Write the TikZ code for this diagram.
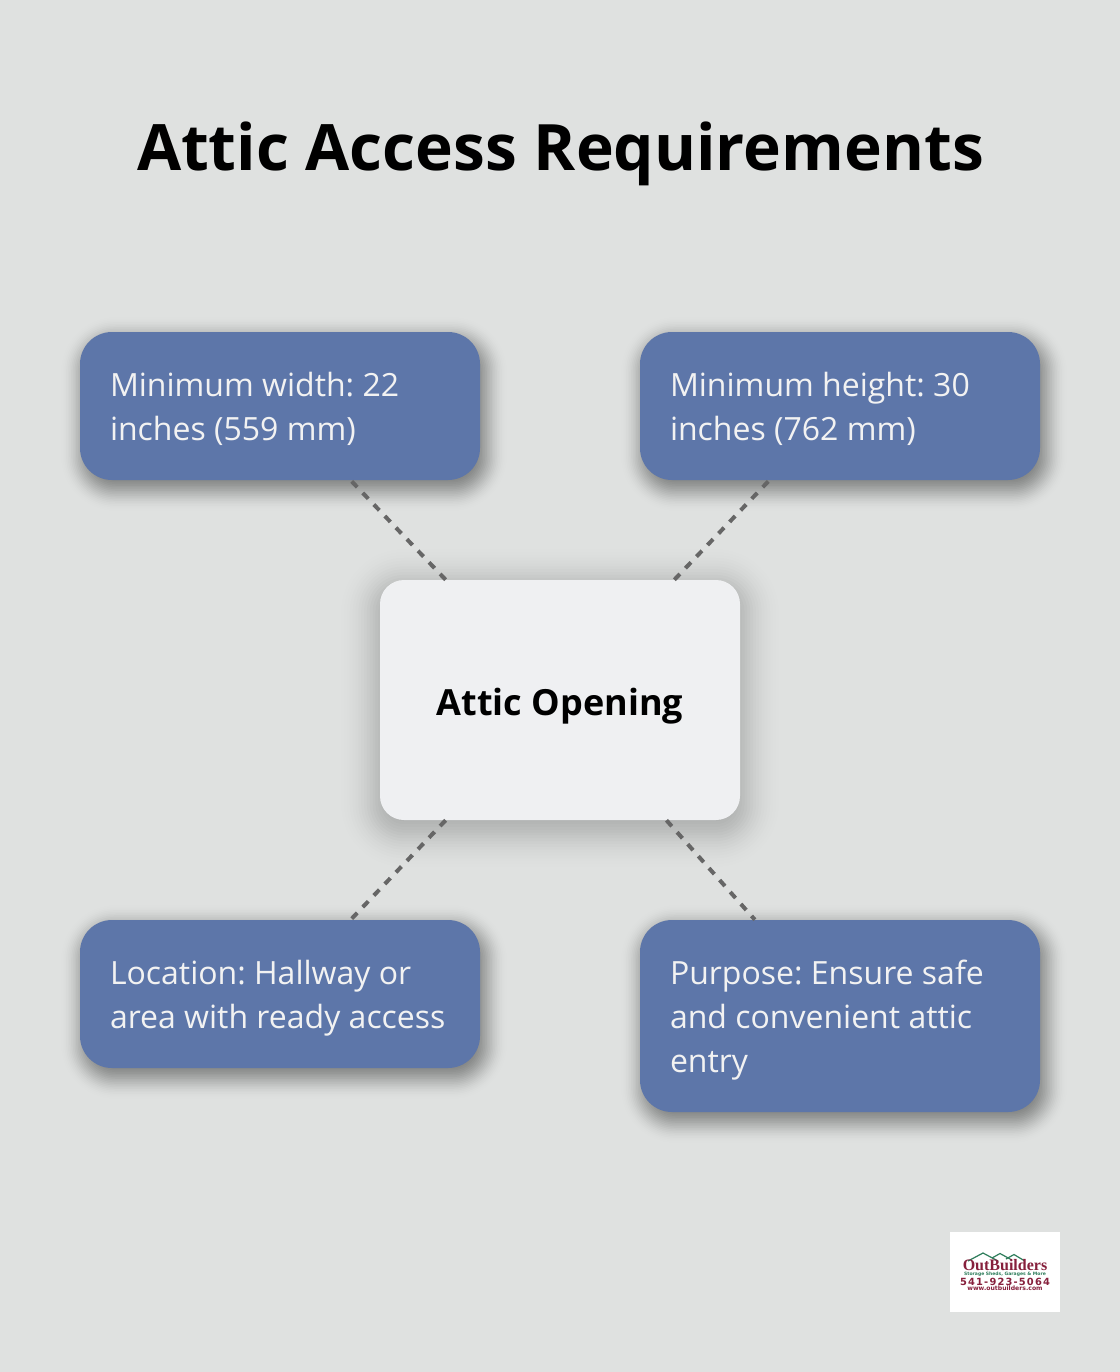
\documentclass[tikz,border=0pt]{standalone}
\usepackage{fontspec}
\setmainfont{Open Sans}
\newfontfamily\logofont{Liberation Serif}
\newfontfamily\logosans{DejaVu Sans}
\usetikzlibrary{calc,backgrounds}
\definecolor{pagegray}{HTML}{DFE1E0}
\definecolor{boxblue}{HTML}{5D76A9}
\definecolor{centerwhite}{HTML}{EFF0F2}
\definecolor{dashgray}{HTML}{666666}
\definecolor{logored}{HTML}{86203C}
\definecolor{logogreen}{HTML}{2E7D5B}
% node, corner radius, offset, blur, steps, strongest opacity
\newcommand{\softshadow}[7]{
	\foreach \ii in {1,...,#6}
	{
		\pgfmathsetmacro{\tt}{1-2*(\ii-1)/(#6-1)}
		\pgfmathsetmacro{\dd}{#5*\tt}
		\pgfmathsetmacro{\rr}{max(#2+\dd,2)*.75}
		\pgfmathsetmacro{\oo}{#7*(1-\tt*\tt)*(1-\tt*\tt)}
		\fill[black,opacity=\oo,rounded corners=\rr pt]
		($(#1.north west)+(#3-\dd,#4-\dd)$) rectangle ($(#1.south east)+(#3+\dd,#4+\dd)$);
	}
}
\tikzset{
	infobox/.style={rectangle,rounded corners=24pt,fill=boxblue,text=white!95!black,
		minimum width=300pt,inner xsep=22.5pt,inner ysep=0pt,text width=255pt,align=flush left,
		font=\fontsize{24pt}{33pt}\selectfont,execute at begin node={\frenchspacing\rule{0pt}{26pt}},
		execute at end node={\rule[-7pt]{0pt}{7pt}}},
	link/.style={draw=dashgray,line width=3pt,dash pattern=on 6pt off 6pt},
	logotext/.style={inner sep=0pt,text=logored},
}
\begin{document}
\begin{tikzpicture}[x=.75pt,y=-.75pt]
	\node[inner sep=0pt,font=\fontsize{48pt}{58pt}\selectfont\bfseries] (title) at (560.5,154) {Attic Access Requirements};
	% four boxes round the middle one
	\node[infobox,minimum height=111pt] (width) at (280,406) {Minimum width: 22\\inches (559 mm)};
	\node[infobox,minimum height=111pt] (height) at (840,406) {Minimum height: 30\\inches (762 mm)};
	\node[infobox,minimum height=111pt] (location) at (280,994) {Location: Hallway or\\area with ready access};
	\node[infobox,minimum height=144pt] (purpose) at (840,1016) {Purpose: Ensure safe\\and convenient attic\\entry};
	\node[rectangle,rounded corners=18pt,fill=centerwhite,minimum width=270pt,minimum height=180pt,
		font=\fontsize{27pt}{33pt}\selectfont\bfseries,text height=24pt,text depth=1.5pt] (opening) at (560,700) {Attic Opening};
	\draw[link] (opening)--(width);
	\draw[link] (opening)--(height);
	\draw[link] (opening)--(location);
	\draw[link] (opening)--(purpose);
	\begin{pgfonlayer}{background}
		\fill[pagegray] (0,0) rectangle (1120,1372);
		\softshadow{opening}{24}{0}{8}{50}{36}{.016}
		\foreach \nn in {width,height,location,purpose}
		{
			\softshadow{\nn}{32}{4}{8}{26}{32}{.034}
		}
	\end{pgfonlayer}
	\useasboundingbox (0,0) rectangle (1120,1372);
	% logo
	\node[rectangle,fill=white,minimum width=82.5pt,minimum height=60pt,inner sep=0pt] (logo) at (1005,1272) {};
	\coordinate (r1) at (968,1261);
	\coordinate (r2) at (992,1258);
	\coordinate (r3) at (1006,1259);
	\draw[logogreen,line width=.9pt] (r1)--++(15,-8)--++(15,8);
	\draw[logogreen,line width=.9pt] (r2)--++(8,-4.5)--++(11,6);
	\draw[logogreen,line width=.9pt] (r3)--++(8,-4.5)--++(10,6);
	\node[logotext,font=\logofont\bfseries\fontsize{12pt}{12pt}\selectfont] (logoname) at (1005,1265.5) {OutBuilders};
	\node[logotext,text=logogreen,font=\logosans\bfseries\fontsize{3.4pt}{4pt}\selectfont] (logosub) at (1005,1274.5) {Storage Sheds, Garages \& More};
	\node[logotext,font=\logosans\bfseries\fontsize{7.4pt}{8pt}\selectfont\addfontfeature{LetterSpace=12}] (logophone) at (1005,1281.5) {541-923-5064};
	\node[logotext,font=\logosans\bfseries\fontsize{4.6pt}{5pt}\selectfont] (logourl) at (1005,1288.5) {www.outbuilders.com};
\end{tikzpicture}
\end{document}
